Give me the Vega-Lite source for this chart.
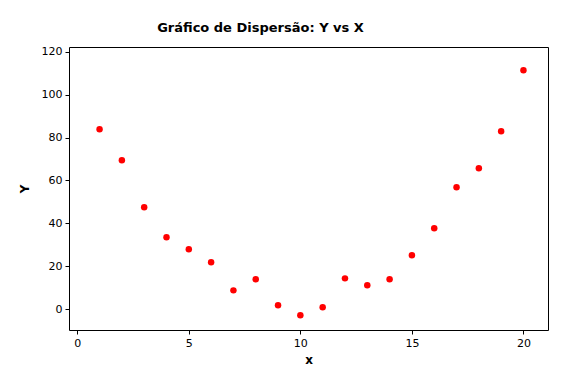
{
  "$schema": "https://vega.github.io/schema/vega-lite/v6.json",
  "autosize": {"type": "none"},
  "padding": {"left": 69, "top": 47, "right": 29, "bottom": 55},
  "width": 479,
  "height": 283,
  "background": "white",
  "title": {
    "text": "Gráfico de Dispersão: Y vs X",
    "font": "DejaVu Sans",
    "fontSize": 13,
    "fontWeight": "bold",
    "color": "#000000",
    "anchor": "middle",
    "dx": -48,
    "offset": 11
  },
  "data": {
    "values": [
      {"x": 1, "Y": 83.9},
      {"x": 2, "Y": 69.4},
      {"x": 3, "Y": 47.5},
      {"x": 4, "Y": 33.5},
      {"x": 5, "Y": 27.9},
      {"x": 6, "Y": 21.8},
      {"x": 7, "Y": 8.7},
      {"x": 8, "Y": 13.9},
      {"x": 9, "Y": 1.7},
      {"x": 10, "Y": -2.9},
      {"x": 11, "Y": 0.8},
      {"x": 12, "Y": 14.3},
      {"x": 13, "Y": 11.1},
      {"x": 14, "Y": 13.9},
      {"x": 15, "Y": 25.1},
      {"x": 16, "Y": 37.7},
      {"x": 17, "Y": 56.8},
      {"x": 18, "Y": 65.7},
      {"x": 19, "Y": 83.0},
      {"x": 20, "Y": 111.4}
    ]
  },
  "mark": {"type": "circle", "size": 42, "color": "#ff0000", "opacity": 1},
  "encoding": {
    "x": {
      "field": "x",
      "type": "quantitative",
      "scale": {"domain": [-0.37, 21.1], "nice": false, "zero": false},
      "axis": {"values": [0, 5, 10, 15, 20], "title": "x"}
    },
    "y": {
      "field": "Y",
      "type": "quantitative",
      "scale": {"domain": [-9.8, 122.3], "nice": false, "zero": false},
      "axis": {"values": [0, 20, 40, 60, 80, 100, 120], "title": "Y"}
    }
  },
  "config": {
    "view": {"stroke": "#000000", "strokeWidth": 1},
    "axis": {
      "grid": false,
      "domain": false,
      "tickColor": "#000000",
      "tickSize": 4,
      "labelFont": "DejaVu Sans",
      "labelFontSize": 11,
      "labelColor": "#000000",
      "labelPadding": 3,
      "titleFont": "DejaVu Sans",
      "titleFontSize": 12,
      "titleFontWeight": "bold",
      "titleColor": "#000000"
    },
    "axisX": {"titlePadding": 6},
    "axisY": {"titlePadding": 10}
  }
}
